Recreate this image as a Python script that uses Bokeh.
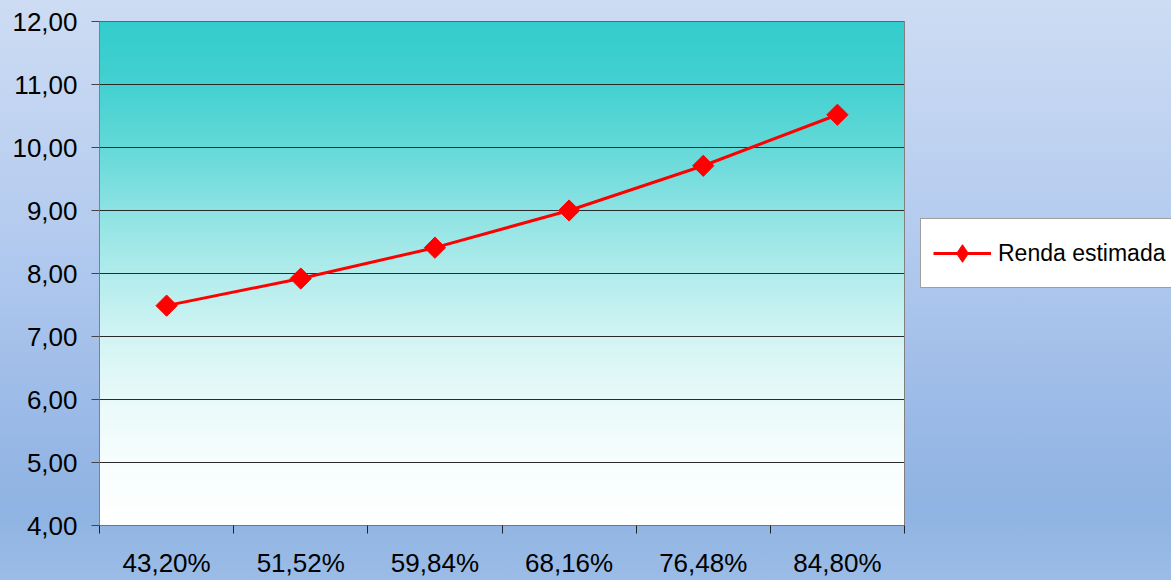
import numpy as np
from bokeh.plotting import figure
from bokeh.models import FixedTicker, Legend, LegendItem, Range1d, GlobalInlineStyleSheet
from bokeh.embed import file_html
from bokeh.resources import INLINE

# ---- data ----
categories = ["43,20%", "51,52%", "59,84%", "68,16%", "76,48%", "84,80%"]
renda = [7.49, 7.92, 8.41, 9.00, 9.71, 10.52]
series_name = "Renda estimada"
y_ticks = [4, 5, 6, 7, 8, 9, 10, 11, 12]
y_tick_labels = ["4,00", "5,00", "6,00", "7,00", "8,00", "9,00", "10,00", "11,00", "12,00"]

x_pos = list(range(1, len(categories) + 1))
FONT = "Liberation Sans"

# layout: plot area 99..904 px, frame extended to the right edge (1171) to host the legend
W, H = 1171, 580
PL, PR = 99, 904
x0 = 0.5
x1 = len(categories) + 0.5
x_end = x0 + (x1 - x0) * (W - PL) / (PR - PL)

p = figure(width=W, height=H, output_backend="svg", toolbar_location=None,
           x_range=Range1d(x0, x_end), y_range=Range1d(y_ticks[0], y_ticks[-1]),
           min_border_left=PL, min_border_right=0, min_border_top=21, min_border_bottom=55)
p.border_fill_color = None
p.background_fill_color = None
p.outline_line_color = None
p.stylesheets = [GlobalInlineStyleSheet(css="html,body{min-height:100%;height:100%;background:linear-gradient(to bottom,#cddcf3 0%,#b4cbef 40%,#98b8e6 75%,#8fb3e2 88%,#9bbce6 100%) no-repeat;}")]

# plot-area gradient (teal -> white), overlapping strips to avoid seams
stops_t = [0.0, 0.125, 0.25, 0.375, 0.5, 0.625, 0.75, 0.875, 1.0]
stops_f = [0.0, 0.08, 0.24, 0.44, 0.62, 0.78, 0.89, 0.96, 1.0]
teal = np.array([0x33, 0xcc, 0xcc], dtype=float)
white = np.array([255, 255, 255], dtype=float)
n = 200
ys = np.linspace(y_ticks[0], y_ticks[-1], n + 1)[:-1]
cols = []
for yb in ys:
    t = (y_ticks[-1] - (yb + (ys[1] - ys[0]) / 2)) / (y_ticks[-1] - y_ticks[0])
    f = np.interp(t, stops_t, stops_f)
    c = teal * (1 - f) + white * f
    cols.append("#%02x%02x%02x" % tuple(int(round(v)) for v in c))
p.quad(left=x0, right=x1, bottom=ys, top=y_ticks[-1],
       fill_color=cols, line_color=None, level="image")

# gridlines and right border limited to the plot area
p.xgrid.grid_line_color = None
p.ygrid.grid_line_color = None
p.segment(x0=x0, x1=x1, y0=y_ticks, y1=y_ticks, line_color="#2a2a2a", line_width=1)
p.segment(x0=x1, x1=x1, y0=y_ticks[0], y1=y_ticks[-1], line_color="#808080", line_width=1)

# axes
xa = p.xaxis[0]
xa.ticker = FixedTicker(ticks=x_pos, minor_ticks=[x - 0.5 for x in x_pos] + [x_pos[-1] + 0.5])
xa.major_label_overrides = {x: c for x, c in zip(x_pos, categories)}
xa.major_tick_out = 0
xa.major_tick_in = 0
xa.minor_tick_out = 8
xa.minor_tick_in = 0
xa.minor_tick_line_color = "#222222"
xa.axis_line_color = None
xa.major_label_text_font = FONT
xa.major_label_text_font_size = "26px"
xa.major_label_text_color = "#000000"
xa.major_label_standoff = 14

ya = p.yaxis[0]
ya.ticker = FixedTicker(ticks=y_ticks)
ya.major_label_overrides = {t: l for t, l in zip(y_ticks, y_tick_labels)}
ya.major_tick_out = 8
ya.major_tick_in = 0
ya.minor_tick_line_color = None
ya.axis_line_color = "#808080"
ya.major_tick_line_color = "#444444"
ya.major_label_text_font = FONT
ya.major_label_text_font_size = "26px"
ya.major_label_text_color = "#000000"
ya.major_label_standoff = 14

# series
lr = p.line(x_pos, renda, line_color="#ff0000", line_width=3)
dr = p.scatter(x_pos, renda, marker="diamond", size=18,
               fill_color="#ff0000", line_color="#ff0000")
sr = p.scatter(x_pos, renda, marker="square", angle=np.pi / 4, size=15,
               fill_color="#ff0000", line_color="#ff0000")

legend = Legend(items=[LegendItem(label=series_name, renderers=[lr, dr])],
                location=(920 - PL, 525 - 288))
legend.padding = 12
legend.margin = 0
legend.spacing = 0
legend.label_height = 44
legend.glyph_height = 44
legend.glyph_width = 58
legend.label_standoff = 7
legend.label_text_font = FONT
legend.label_text_font_size = "23px"
legend.label_text_color = "#000000"
legend.border_line_color = "#404040"
legend.border_line_width = 1
legend.background_fill_color = "#ffffff"
legend.background_fill_alpha = 1.0
p.add_layout(legend)

open("out.html", "w").write(file_html(p, INLINE))
